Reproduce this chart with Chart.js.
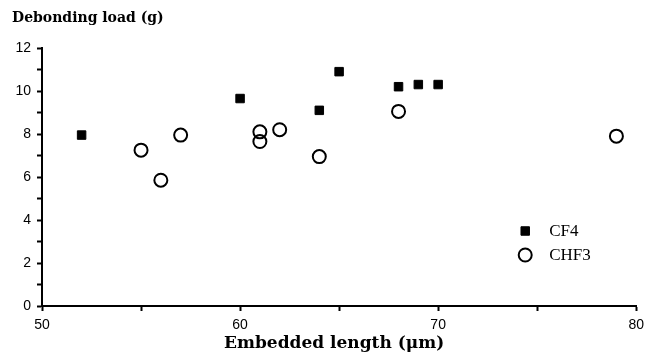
<!DOCTYPE html>
<html>
<head>
<meta charset="utf-8">
<script src="https://cdn.jsdelivr.net/npm/chart.js@4.4.1/dist/chart.umd.min.js"></script>
<style>
  html, body { margin: 0; padding: 0; background: #fff; }
  #wrap { width: 650px; height: 355px; }
</style>
</head>
<body>
<div id="wrap"><canvas id="chart"></canvas></div>
<script>
// embedded length (um) and debonding load (g)
const cf4Length = [52, 60, 64, 65, 68, 69, 70];
const cf4Load = [7.95, 9.65, 9.1, 10.9, 10.2, 10.3, 10.3];
const chf3Length = [55, 56, 57, 61, 61, 62, 64, 68, 79];
const chf3Load = [7.25, 5.85, 7.95, 8.1, 7.65, 8.2, 6.95, 9.05, 7.9];

const xTicks = [50, 60, 70, 80];
const yTicks = [0, 2, 4, 6, 8, 10, 12];

function toPoints(xs, ys) {
    return xs.map((x, i) => ({ x: x, y: ys[i] }));
}

// titles + legend drawn by hand, like the old plot
const extras = {
    id: 'extras',
    afterDraw(chart) {
        const ctx = chart.ctx;
        const area = chart.chartArea;
        ctx.save();
        ctx.fillStyle = '#000';
        ctx.textBaseline = 'middle';

        ctx.font = 'bold 14px "DejaVu Serif"';
        ctx.textAlign = 'left';
        ctx.fillText('Debonding load (g)', 12, 18);

        ctx.font = 'bold 17px "DejaVu Serif"';
        ctx.textAlign = 'center';
        ctx.fillText('Embedded length (\u03bcm)', (area.left + area.right) / 2 - 5, 344);

        // legend
        const lx = area.right - 111;
        ctx.font = '17px "Liberation Serif"';
        ctx.textAlign = 'left';
        chart.data.datasets.forEach((ds, i) => {
            const ly = area.bottom - 75 + i * 24;
            ctx.fillStyle = ds.backgroundColor;
            ctx.strokeStyle = ds.borderColor;
            ctx.lineWidth = ds.borderWidth;
            Chart.helpers.drawPoint(ctx, {
                pointStyle: ds.pointStyle,
                radius: ds.pointRadius,
                borderWidth: ds.borderWidth
            }, lx, ly);
            ctx.fillStyle = '#000';
            ctx.fillText(ds.label, lx + 24, ly + 1);
        });
        ctx.restore();
    }
};

new Chart(document.getElementById('chart'), {
    type: 'scatter',
    data: {
        datasets: [{
            label: 'CF4',
            data: toPoints(cf4Length, cf4Load),
            pointStyle: 'rect',
            pointRadius: 6,
            backgroundColor: '#000',
            borderColor: '#000',
            borderWidth: 1
        }, {
            label: 'CHF3',
            data: toPoints(chf3Length, chf3Load),
            pointStyle: 'circle',
            pointRadius: 6.5,
            backgroundColor: 'rgba(0,0,0,0)',
            borderColor: '#000',
            borderWidth: 2
        }]
    },
    options: {
        responsive: true,
        maintainAspectRatio: false,
        animation: false,
        layout: { padding: { left: 0, right: 10, top: 48, bottom: 0 } },
        plugins: {
            legend: { display: false },
            tooltip: { enabled: false }
        },
        scales: {
            x: {
                type: 'linear',
                min: xTicks[0],
                max: xTicks[xTicks.length - 1],
                afterFit(scale) { scale.height = 49; },
                ticks: {
                    stepSize: 5,
                    autoSkip: false,
                    maxRotation: 0,
                    padding: 6,
                    color: '#000',
                    font: { family: '"Liberation Sans"', size: 14 },
                    callback: v => xTicks.includes(v) ? v : ''
                },
                grid: { drawOnChartArea: false, tickLength: 5, tickWidth: 2, tickColor: '#000' },
                border: { color: '#000', width: 2 }
            },
            y: {
                min: yTicks[0],
                max: yTicks[yTicks.length - 1],
                afterFit(scale) { scale.width = 42; },
                ticks: {
                    stepSize: 1,
                    autoSkip: false,
                    padding: 6,
                    color: '#000',
                    font: { family: '"Liberation Sans"', size: 14 },
                    callback: v => yTicks.includes(v) ? v : ''
                },
                grid: { drawOnChartArea: false, tickLength: 5, tickWidth: 2, tickColor: '#000' },
                border: { color: '#000', width: 2 }
            }
        }
    },
    plugins: [extras]
});
</script>
</body>
</html>
